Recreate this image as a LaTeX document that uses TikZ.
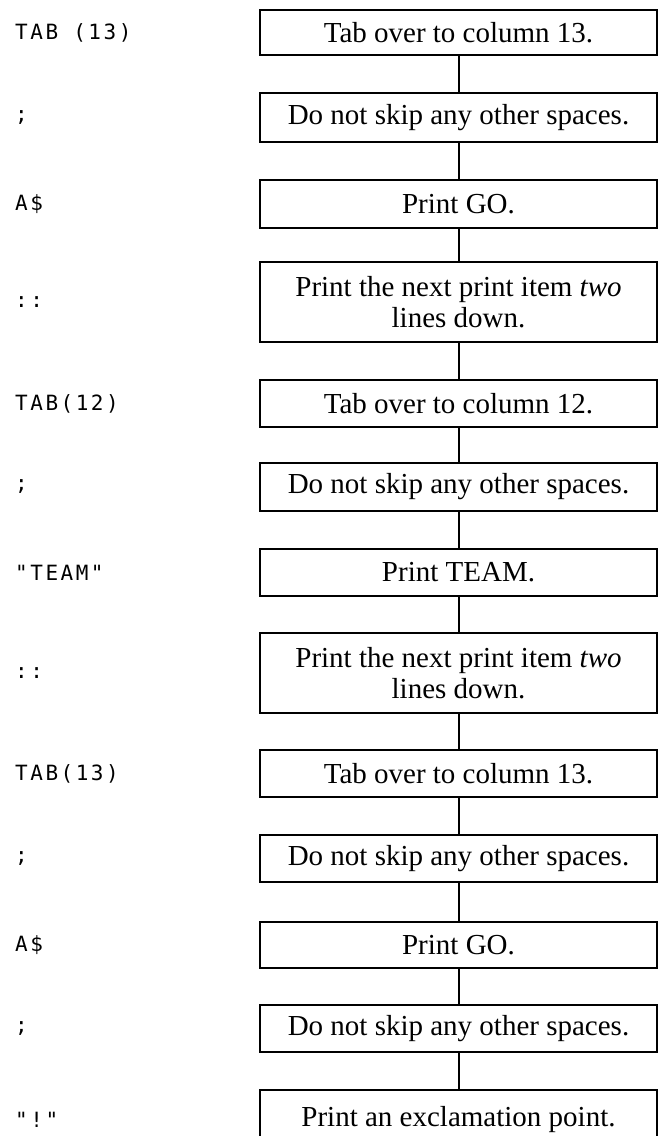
\documentclass[tikz,border=0pt]{standalone}
\usepackage{fontspec}
\setmainfont{Liberation Serif}
\newfontfamily\codefont[LetterSpace=12]{DejaVu Sans Mono}
\begin{document}
\begin{tikzpicture}[x=1pt,y=-1pt,
  stepbox/.style={draw,line width=1.3pt,rectangle,inner sep=0pt,minimum width=397pt,
    align=center,font=\fontsize{29}{31}\selectfont},
  codelbl/.style={anchor=west,inner sep=0pt,font=\codefont\fontsize{21}{21}\selectfont},
  link/.style={line width=2pt}]
\useasboundingbox (0,0) rectangle (659,1136);
\foreach \i/\c/\h/\t/\lab in {
  1/32.5/45/{Tab over to column 13.}/{TAB (13)},
  2/117.5/49/{Do not skip any other spaces.}/{;},
  3/204/48/{Print GO.}/{A\$},
  4/302/80/{Print the next print item \textit{two}\\lines down.}/{::},
  5/403.5/47/{Tab over to column 12.}/{TAB(12)},
  6/487/48/{Do not skip any other spaces.}/{;},
  7/572.5/47/{Print TEAM.}/{"TEAM"},
  8/673/80/{Print the next print item \textit{two}\\lines down.}/{::},
  9/773.5/47/{Tab over to column 13.}/{TAB(13)},
  10/858.5/47/{Do not skip any other spaces.}/{;},
  11/945/46/{Print GO.}/{A\$},
  12/1028.5/47/{Do not skip any other spaces.}/{;},
  13/1120/60/{Print an exclamation point.}/{"!"}}{
  \node[stepbox,minimum height=\h pt] (b\i) at (458.5,\c) {\t};
  \node[codelbl] (l\i) at (15,\c) {\lab};
}
\foreach \i [evaluate=\i as \j using int(\i+1)] in {1,...,12}{
  \draw[link] (b\i.south) -- (b\j.north);
}
\end{tikzpicture}
\end{document}
